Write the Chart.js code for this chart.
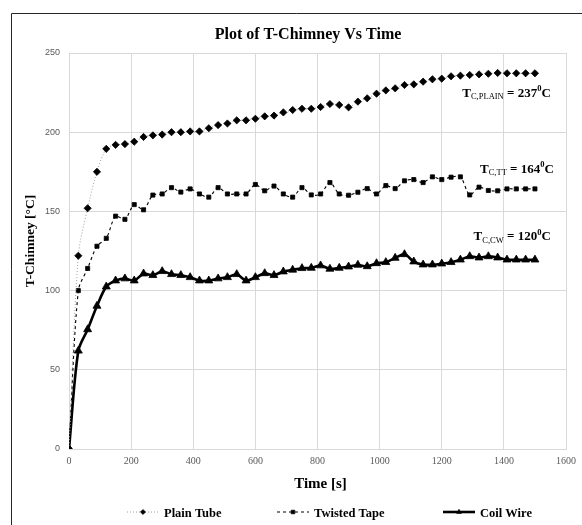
<!DOCTYPE html>
<html><head><meta charset="utf-8">
<script src="https://cdn.jsdelivr.net/npm/chart.js@4"></script>
<style>html,body{margin:0;padding:0;background:#fff}#wrap{width:582px;height:525px;position:relative}</style>
</head><body><div id="wrap"><canvas id="c" width="582" height="525"></canvas></div>
<script>
// ---------------- data ----------------
const timeS = [0,30,60,90,120,150,180,210,240,270,300,330,360,390,420,450,480,510,540,570,600,630,660,690,720,750,780,810,840,870,900,930,960,990,1020,1050,1080,1110,1140,1170,1200,1230,1260,1290,1320,1350,1380,1410,1440,1470,1500];
const plainTube = [0,122,152,175,189.5,192,192.5,194,197,198,198.5,200,200,200.5,200.5,202.5,204.5,205.5,207.5,207.5,208.5,210,210.5,212.5,214,214.8,214.8,215.9,217.8,217.2,215.7,219.3,221.4,224.3,226.4,227.7,229.8,230.2,231.9,233.4,233.8,235.3,235.7,236.1,236.5,236.9,237.4,237.2,237.2,237.2,237.2];
const twistedTape = [0,100,114,128,133,147,145,154.3,151,160.3,161,165,162.2,164.2,161,159,165,161,161,161,167,163,166,161,159,165,160.4,161,168.2,161,160.2,162.1,164.4,161,166.3,164.4,169.3,170.1,168.2,171.8,170.1,171.6,171.8,160.4,165.3,163.2,163,164.2,164.2,164.2,164.2];
const coilWire = [0,62,75.5,90.3,102.5,106.3,107.6,106.3,110.7,109.7,112.2,110.3,109.7,108.4,106.3,106.3,107.6,108.4,110.3,106.3,108.4,110.9,109.7,112,113.1,114.1,114.3,115.8,113.7,114.3,115.1,116.2,115.3,117.2,117.9,120.6,122.9,118.3,116.4,116.4,117,117.9,119.5,121.6,120.8,121.6,120.8,119.5,119.5,119.5,119.5];
const seriesNames = ['Plain Tube','Twisted Tape','Coil Wire'];
const xTicks = [0,200,400,600,800,1000,1200,1400,1600];
const yTicks = [0,50,100,150,200,250];
const chartTitle = 'Plot of T-Chimney Vs Time';
const xTitle = 'Time [s]';
const yTitle = 'T-Chimney [°C]';
// end-value labels: [main, subscript, middle, superscript, end]
const finalTexts = [
  ['T','C,PLAIN',' = 237','0','C'],
  ['T','C,TT',' = 164','0','C'],
  ['T','C,CW',' = 120','0','C']
];
// anchor of each end label (right edge / baseline) in data units
const finalAnchorX = [1551,1561,1551];
const finalAnchorY = [222.4,174.4,131.9];

// ---------------- styling ----------------
const SERIF = "'Liberation Serif','Times New Roman',serif";
const SANS = "'Liberation Sans',Arial,sans-serif";
const styles = [
  {borderColor:'#a0a0a0', borderWidth:1, borderDash:[1,2], pointStyle:'rectRot', pointRadius:3.6, legendRadius:2.6},
  {borderColor:'#000000', borderWidth:1.1, borderDash:[3,3], pointStyle:'rect', pointRadius:2.9, legendRadius:2.6},
  {borderColor:'#000000', borderWidth:2.6, borderDash:[], pointStyle:'triangle', pointRadius:4.6, legendRadius:2.8}
];
const seriesValues = [plainTube, twistedTape, coilWire];

const datasets = seriesValues.map((vals,i)=>({
  label: seriesNames[i],
  data: timeS.map((t,k)=>({x:t,y:vals[k]})),
  borderColor: styles[i].borderColor,
  borderWidth: styles[i].borderWidth,
  borderDash: styles[i].borderDash,
  pointStyle: styles[i].pointStyle,
  pointRadius: styles[i].pointRadius,
  pointBackgroundColor:'#000',
  pointBorderColor:'#000',
  pointBorderWidth:0.8,
  tension:0.3,
  fill:false
}));

function drawRich(ctx, parts, rightX, baseline){
  const fonts = [
    {f:'bold 13px '+SERIF, dy:0},
    {f:'8.5px '+SERIF, dy:2.5},
    {f:'bold 13px '+SERIF, dy:0},
    {f:'bold 8.5px '+SERIF, dy:-5.5},
    {f:'bold 13px '+SERIF, dy:0}
  ];
  let w = 0;
  parts.forEach((p,i)=>{ctx.font=fonts[i].f; w+=ctx.measureText(p).width;});
  let x = rightX - w;
  ctx.textAlign='left'; ctx.textBaseline='alphabetic'; ctx.fillStyle='#000';
  parts.forEach((p,i)=>{ctx.font=fonts[i].f; ctx.fillText(p,x,baseline+fonts[i].dy); x+=ctx.measureText(p).width;});
}

const legendLayout = {y:512, symbolX:[127,277,443], symbolW:32, gap:5};

const decor = {
  id:'decor',
  beforeDraw(chart){
    const ctx = chart.ctx;
    ctx.save();
    ctx.fillStyle='#fff'; ctx.fillRect(0,0,chart.width,chart.height);
    ctx.strokeStyle='#262626'; ctx.lineWidth=1;
    ctx.beginPath(); ctx.moveTo(11.5,chart.height); ctx.lineTo(11.5,13.5); ctx.lineTo(chart.width,13.5); ctx.stroke();
    ctx.restore();
  },
  afterDraw(chart){
    const ctx = chart.ctx, xs = chart.scales.x, ys = chart.scales.y, ca = chart.chartArea;
    ctx.save();
    ctx.fillStyle='#000';
    // title
    ctx.font='bold 16px '+SERIF; ctx.textAlign='center'; ctx.textBaseline='alphabetic';
    ctx.fillText(chartTitle, 308, 38.5);
    // x title
    ctx.font='bold 15px '+SERIF;
    ctx.fillText(xTitle, (ca.left+ca.right)/2+3, 488);
    // y title
    ctx.save();
    ctx.translate(31, (ca.top+ca.bottom)/2-10);
    ctx.rotate(-Math.PI/2);
    ctx.font='bold 13.5px '+SERIF; ctx.textBaseline='middle';
    ctx.fillText(yTitle, 0, 0);
    ctx.restore();
    // end labels
    finalTexts.forEach((parts,i)=>drawRich(ctx, parts, xs.getPixelForValue(finalAnchorX[i]), ys.getPixelForValue(finalAnchorY[i])));
    // legend
    chart.data.datasets.forEach((ds,i)=>{
      const x0 = legendLayout.symbolX[i], y = legendLayout.y, w = legendLayout.symbolW;
      ctx.save();
      ctx.strokeStyle = ds.borderColor; ctx.lineWidth = ds.borderWidth; ctx.setLineDash(ds.borderDash);
      ctx.beginPath(); ctx.moveTo(x0,y); ctx.lineTo(x0+w,y); ctx.stroke();
      ctx.setLineDash([]);
      ctx.fillStyle='#000'; ctx.strokeStyle='#000'; ctx.lineWidth=0.6;
      Chart.helpers.drawPoint(ctx,{pointStyle:ds.pointStyle, radius:styles[i].legendRadius, rotation:0, borderWidth:0.6}, x0+w/2, y);
      ctx.restore();
      ctx.font='bold 12.5px '+SERIF; ctx.textAlign='left'; ctx.textBaseline='alphabetic'; ctx.fillStyle='#000';
      ctx.fillText(ds.label, x0+w+legendLayout.gap, y+4.5);
    });
    ctx.restore();
  }
};

new Chart(document.getElementById('c'), {
  type:'line',
  data:{datasets},
  options:{
    responsive:false, animation:false, devicePixelRatio:1,
    events:[],
    layout:{padding:{left:0,right:12,top:53,bottom:0}},
    plugins:{legend:{display:false}, title:{display:false}, tooltip:{enabled:false}},
    scales:{
      x:{type:'linear', min:0, max:1600,
        afterBuildTicks(s){s.ticks = xTicks.map(v=>({value:v}));},
        afterFit(s){s.height=76;},
        grid:{color:'#d9d9d9', lineWidth:1, drawTicks:false},
        border:{color:'#d9d9d9'},
        ticks:{padding:6, color:'#595959', font:{family:SERIF, size:10}, maxRotation:0, autoSkip:false, callback:(v)=>String(v)}
      },
      y:{type:'linear', min:0, max:250,
        afterBuildTicks(s){s.ticks = yTicks.map(v=>({value:v}));},
        afterFit(s){s.width=69;},
        grid:{color:'#d9d9d9', lineWidth:1, drawTicks:false},
        border:{color:'#d9d9d9'},
        ticks:{padding:9, color:'#595959', font:{family:SANS, size:9}, callback:(v)=>String(v)}
      }
    }
  },
  plugins:[decor]
});
</script></body></html>
